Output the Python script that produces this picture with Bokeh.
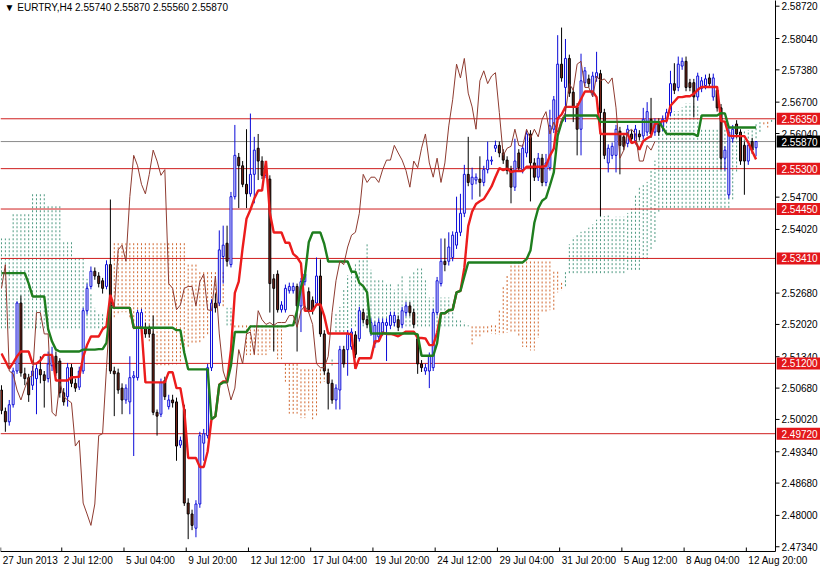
import numpy as np
from bokeh.plotting import figure
from bokeh.models import Range1d, Label, ColumnDataSource
from bokeh.core.properties import value
from bokeh.embed import file_html
from bokeh.resources import INLINE

header_text = "\u25bc EURTRY,H4  2.55740 2.55870 2.55560 2.55870"

opens = [2.5064,2.5019,2.4997,2.5033,2.5104,2.5247,2.5098,2.5090,2.5074,2.5088,
 2.5107,2.5096,2.5088,2.5115,2.5135,2.5125,2.5058,2.5050,2.5111,2.5078,
 2.5070,2.5104,2.5231,2.5282,2.5314,2.5304,2.5294,2.5282,2.5328,2.5104,
 2.5100,2.5068,2.5043,2.5039,2.5090,2.5090,2.5196,2.5196,2.5192,2.5182,
 2.5017,2.5013,2.5084,2.5029,2.5043,2.5039,2.4948,2.5023,2.4826,2.4803,
 2.4773,2.4824,2.4952,2.4968,2.5111,2.5247,2.5247,2.5345,2.5373,2.5328,
 2.5471,2.5554,2.5536,2.5497,2.5477,2.5518,2.5573,2.5546,2.5516,2.5508,
 2.5298,2.5308,2.5233,2.5233,2.5273,2.5273,2.5282,2.5241,2.5292,2.5271,
 2.5253,2.5247,2.5304,2.5182,2.5100,2.5078,2.5043,2.5064,2.5149,2.5149,
 2.5155,2.5180,2.5172,2.5227,2.5212,2.5186,2.5162,2.5176,2.5186,2.5200,
 2.5200,2.5206,2.5212,2.5202,2.5227,2.5241,2.5227,2.5172,2.5119,2.5104,
 2.5104,2.5111,2.5227,2.5288,2.5335,2.5335,2.5343,2.5369,2.5396,2.5436,
 2.5518,2.5497,2.5506,2.5508,2.5501,2.5528,2.5546,2.5573,2.5579,2.5563,
 2.5548,2.5528,2.5491,2.5563,2.5528,2.5563,2.5603,2.5542,2.5512,2.5552,
 2.5501,2.5532,2.5613,2.5634,2.5750,2.5701,2.5762,2.5691,2.5660,2.5613,
 2.5711,2.5719,2.5689,2.5721,2.5730,2.5648,2.5542,2.5558,2.5558,2.5609,
 2.5597,2.5583,2.5603,2.5589,2.5603,2.5599,2.5607,2.5634,2.5607,2.5628,
 2.5618,2.5634,2.5648,2.5709,2.5701,2.5746,2.5756,2.5711,2.5711,2.5681,
 2.5699,2.5705,2.5721,2.5681,2.5695,2.5658,2.5552,2.5475,2.5593,2.5624,
 2.5607,2.5579,2.5546,2.5587,2.5574]
highs = [2.5074,2.5027,2.5043,2.5111,2.5251,2.5263,2.5111,2.5098,2.5115,2.5121,
 2.5135,2.5104,2.5145,2.5155,2.5145,2.5131,2.5068,2.5121,2.5119,2.5088,
 2.5113,2.5237,2.5288,2.5324,2.5322,2.5312,2.5300,2.5337,2.5465,2.5113,
 2.5109,2.5078,2.5076,2.5135,2.5104,2.5233,2.5235,2.5206,2.5200,2.5221,
 2.5023,2.5088,2.5092,2.5054,2.5054,2.5048,2.4966,2.5033,2.4836,2.4812,
 2.4832,2.4976,2.4982,2.5119,2.5255,2.5267,2.5400,2.5410,2.5410,2.5481,
 2.5622,2.5563,2.5546,2.5613,2.5646,2.5597,2.5603,2.5556,2.5542,2.5516,
 2.5308,2.5316,2.5251,2.5286,2.5290,2.5290,2.5288,2.5300,2.5316,2.5280,
 2.5261,2.5343,2.5339,2.5190,2.5109,2.5086,2.5076,2.5157,2.5157,2.5190,
 2.5194,2.5188,2.5239,2.5235,2.5221,2.5215,2.5208,2.5215,2.5215,2.5215,
 2.5229,2.5229,2.5221,2.5239,2.5249,2.5249,2.5235,2.5180,2.5127,2.5119,
 2.5143,2.5235,2.5302,2.5383,2.5383,2.5396,2.5398,2.5471,2.5477,2.5538,
 2.5597,2.5532,2.5520,2.5556,2.5536,2.5587,2.5556,2.5589,2.5587,2.5571,
 2.5556,2.5536,2.5593,2.5571,2.5581,2.5611,2.5611,2.5552,2.5563,2.5561,
 2.5561,2.5654,2.5683,2.5811,2.5827,2.5803,2.5770,2.5701,2.5668,2.5772,
 2.5744,2.5728,2.5734,2.5776,2.5738,2.5656,2.5581,2.5585,2.5622,2.5618,
 2.5605,2.5622,2.5611,2.5622,2.5611,2.5658,2.5670,2.5679,2.5636,2.5636,
 2.5642,2.5656,2.5736,2.5752,2.5766,2.5764,2.5766,2.5719,2.5719,2.5732,
 2.5723,2.5728,2.5730,2.5730,2.5703,2.5666,2.5577,2.5616,2.5622,2.5632,
 2.5613,2.5587,2.5587,2.5595,2.5587]
lows = [2.5013,2.4976,2.4989,2.5027,2.5098,2.5092,2.5074,2.5039,2.5064,2.5013,
 2.5078,2.5027,2.5080,2.5104,2.5094,2.5048,2.5031,2.5029,2.5070,2.5060,
 2.5064,2.5098,2.5223,2.5276,2.5296,2.5280,2.5267,2.5276,2.5098,2.5009,
 2.5056,2.5013,2.5035,2.5013,2.4925,2.5084,2.5190,2.5174,2.5174,2.5011,
 2.4968,2.5007,2.5043,2.5023,2.5027,2.4915,2.4942,2.4820,2.4750,2.4769,
 2.4754,2.4816,2.4915,2.4962,2.5104,2.5227,2.5241,2.5288,2.5324,2.5322,
 2.5465,2.5447,2.5491,2.5447,2.5471,2.5457,2.5506,2.5508,2.5510,2.5227,
 2.5145,2.5227,2.5227,2.5227,2.5267,2.5267,2.5145,2.5186,2.5284,2.5227,
 2.5223,2.5241,2.5176,2.5096,2.5023,2.5035,2.5023,2.5023,2.5111,2.5094,
 2.5149,2.5131,2.5166,2.5204,2.5194,2.5178,2.5153,2.5168,2.5178,2.5125,
 2.5192,2.5198,2.5188,2.5194,2.5219,2.5219,2.5194,2.5098,2.5102,2.5096,
 2.5068,2.5104,2.5221,2.5282,2.5314,2.5326,2.5335,2.5361,2.5388,2.5428,
 2.5493,2.5465,2.5497,2.5471,2.5493,2.5520,2.5538,2.5565,2.5554,2.5540,
 2.5518,2.5457,2.5483,2.5524,2.5520,2.5554,2.5461,2.5504,2.5504,2.5493,
 2.5493,2.5526,2.5605,2.5626,2.5713,2.5628,2.5681,2.5628,2.5558,2.5558,
 2.5703,2.5701,2.5681,2.5713,2.5430,2.5550,2.5522,2.5550,2.5522,2.5518,
 2.5569,2.5575,2.5585,2.5581,2.5589,2.5591,2.5599,2.5595,2.5599,2.5599,
 2.5609,2.5626,2.5640,2.5687,2.5693,2.5738,2.5693,2.5693,2.5638,2.5673,
 2.5691,2.5697,2.5701,2.5673,2.5650,2.5528,2.5526,2.5467,2.5585,2.5595,
 2.5538,2.5475,2.5538,2.5561,2.5556]
closes = [2.5021,2.4997,2.5033,2.5104,2.5247,2.5100,2.5088,2.5054,2.5104,2.5109,
 2.5096,2.5084,2.5119,2.5135,2.5100,2.5058,2.5039,2.5111,2.5078,2.5068,
 2.5104,2.5231,2.5278,2.5314,2.5304,2.5288,2.5278,2.5328,2.5104,2.5098,
 2.5064,2.5043,2.5068,2.5090,2.5094,2.5227,2.5227,2.5182,2.5182,2.5017,
 2.5009,2.5080,2.5050,2.5043,2.5037,2.4946,2.4958,2.4826,2.4803,2.4779,
 2.4824,2.4968,2.4972,2.5111,2.5247,2.5237,2.5359,2.5369,2.5335,2.5471,
 2.5558,2.5536,2.5497,2.5477,2.5518,2.5569,2.5546,2.5516,2.5528,2.5288,
 2.5278,2.5233,2.5243,2.5278,2.5282,2.5282,2.5241,2.5292,2.5308,2.5233,
 2.5231,2.5304,2.5182,2.5104,2.5078,2.5043,2.5068,2.5149,2.5119,2.5182,
 2.5186,2.5139,2.5231,2.5212,2.5202,2.5206,2.5200,2.5206,2.5206,2.5206,
 2.5221,2.5221,2.5196,2.5231,2.5241,2.5227,2.5202,2.5119,2.5111,2.5111,
 2.5135,2.5227,2.5294,2.5335,2.5328,2.5365,2.5390,2.5396,2.5436,2.5518,
 2.5501,2.5512,2.5512,2.5501,2.5528,2.5548,2.5548,2.5579,2.5563,2.5548,
 2.5526,2.5491,2.5546,2.5532,2.5573,2.5603,2.5542,2.5512,2.5552,2.5501,
 2.5542,2.5620,2.5675,2.5750,2.5721,2.5762,2.5689,2.5660,2.5613,2.5715,
 2.5736,2.5709,2.5725,2.5732,2.5648,2.5558,2.5573,2.5577,2.5613,2.5579,
 2.5577,2.5613,2.5593,2.5613,2.5597,2.5634,2.5650,2.5603,2.5628,2.5607,
 2.5634,2.5648,2.5709,2.5695,2.5750,2.5756,2.5701,2.5701,2.5681,2.5725,
 2.5715,2.5719,2.5709,2.5721,2.5658,2.5552,2.5569,2.5607,2.5613,2.5603,
 2.5546,2.5546,2.5579,2.5569,2.5587]

# indicator values that depend on bars before the visible window
tenkan_head = [2.5141,2.5125,2.5109,2.5121,2.5135,2.5145,2.5145,2.5145]
kijun_head = [2.5310,2.5310,2.5310,2.5310,2.5310,2.5310,2.5310,2.5288,2.5261,2.5261,
 2.5261,2.5261,2.5192,2.5166,2.5149,2.5145,2.5145,2.5145,2.5145,2.5145,
 2.5145,2.5149,2.5149,2.5149,2.5149]
span_a_head = [2.5383,2.5383,2.5383,2.5436,2.5436,2.5436,2.5436,2.5436,2.5477,2.5477,
 2.5477,2.5477,2.5451,2.5451,2.5451,2.5451,2.5375,2.5375,2.5375,2.5343,
 2.5343,2.5343,2.5298,2.5267,2.5237,2.5227]
span_b_head = [2.5194]*29 + [2.5373]*19 + [2.5328]*3 + [2.5312]*7 + [2.5200]*15 + [2.5119]*4

level_lines = [2.5635, 2.5530, 2.5445, 2.5341, 2.5120, 2.4972]
level_texts = ["2.56350", "2.55300", "2.54450", "2.53410", "2.51200", "2.49720"]
bid_price = 2.5587
bid_text = "2.55870"
price_ticks = [2.5872, 2.5804, 2.5738, 2.5670, 2.5604, 2.5470, 2.5402, 2.5268,
               2.5202, 2.5134, 2.5068, 2.5002, 2.4934, 2.4868, 2.4800, 2.4734]
time_tick_bars = [0, 16, 32, 48, 64, 80, 96, 112, 128, 144, 160, 176, 192]
time_tick_labels = ["27 Jun 2013", "2 Jul 12:00", "5 Jul 04:00", "9 Jul 20:00",
                    "12 Jul 12:00", "17 Jul 04:00", "19 Jul 20:00", "24 Jul 12:00",
                    "29 Jul 04:00", "31 Jul 20:00", "5 Aug 12:00", "8 Aug 04:00",
                    "12 Aug 20:00"]

# ---- Ichimoku (9, 26, 52) ----
O = np.array(opens); H = np.array(highs); L = np.array(lows); C = np.array(closes)
n = len(C)
shift = 26
tenkan = list(tenkan_head) + [(H[i-8:i+1].max() + L[i-8:i+1].min()) / 2 for i in range(8, n)]
kijun = list(kijun_head) + [(H[i-25:i+1].max() + L[i-25:i+1].min()) / 2 for i in range(25, n)]
span_j = list(range(0, 200))
span_a = [span_a_head[j] if j < shift else (tenkan[j-shift] + kijun[j-shift]) / 2 for j in span_j]
span_b = [span_b_head[j] if j < 77 else (H[j-77:j-25].max() + L[j-77:j-25].min()) / 2 for j in span_j]
chikou_x = list(range(0, n - shift))
chikou_y = list(C[shift:])

# ---- layout (chart area + price scale + time scale drawn inside one frame) ----
FONT = "Liberation Sans"
WIDTH, HEIGHT = 820, 569
CHART_W, CHART_H = 775, 551
X_LEFT, X_RIGHT = -0.25, 199.0
P_LOW, P_HIGH = 2.4724, 2.5884
bar_px = CHART_W / (X_RIGHT - X_LEFT)
price_px = (P_HIGH - P_LOW) / CHART_H
X_END = X_RIGHT + (WIDTH - CHART_W) / bar_px
Y_START = P_LOW - (HEIGHT - CHART_H) * price_px

p = figure(width=WIDTH, height=HEIGHT, x_range=Range1d(X_LEFT, X_END), y_range=Range1d(Y_START, P_HIGH),
           output_backend="svg", toolbar_location=None, x_axis_location=None, y_axis_location=None,
           min_border_left=0, min_border_top=0, min_border_right=0, min_border_bottom=0)
p.outline_line_color = None
p.grid.visible = False
p.background_fill_color = "white"
p.border_fill_color = "white"

# cloud (dotted histogram)
up = [k for k in range(len(span_j)) if span_a[k] >= span_b[k]]
dn = [k for k in range(len(span_j)) if span_a[k] < span_b[k]]
p.segment(x0=[span_j[k] for k in up], y0=[span_b[k] for k in up], x1=[span_j[k] for k in up],
          y1=[span_a[k] for k in up], line_color="#4f9a82", line_width=1, line_dash="2 2")
p.segment(x0=[span_j[k] for k in dn], y0=[span_b[k] for k in dn], x1=[span_j[k] for k in dn],
          y1=[span_a[k] for k in dn], line_color="#d0672f", line_width=1, line_dash="2 2")

# horizontal levels
xs_line = [X_LEFT, X_RIGHT]
for lv in level_lines:
    p.line(xs_line, [lv, lv], line_color="#cf1e1e", line_width=1)
p.line(xs_line, [bid_price, bid_price], line_color="#8a8a8a", line_width=1)

# candles
idx = np.arange(n)
bull = C >= O
BULL = "#0a0ad8"
wick_col = [BULL if b else "black" for b in bull]
p.segment(x0=idx, y0=L, x1=idx, y1=H, line_color=wick_col, line_width=1)
src_up = ColumnDataSource(dict(x=idx[bull], top=C[bull], bottom=O[bull]))
src_dn = ColumnDataSource(dict(x=idx[~bull], top=O[~bull], bottom=C[~bull]))
p.vbar(x="x", top="top", bottom="bottom", width=0.5, source=src_up,
       fill_color="white", line_color=BULL, line_width=1)
p.vbar(x="x", top="top", bottom="bottom", width=0.5, source=src_dn,
       fill_color="#7c2619", line_color="black", line_width=1)

# indicator lines
p.line(list(idx), tenkan, line_color="#ec1c1c", line_width=2.4)
p.line(list(idx), kijun, line_color="#1e7e1e", line_width=2.4)
p.line(chikou_x, chikou_y, line_color="#8e3b30", line_width=1)

# price scale (right)
p.segment(x0=[X_RIGHT], y0=[P_LOW], x1=[X_RIGHT], y1=[P_HIGH + 1], line_color="black", line_width=1)
p.segment(x0=[X_RIGHT] * len(price_ticks), y0=price_ticks, x1=[X_RIGHT + 4 / bar_px] * len(price_ticks),
          y1=price_ticks, line_color="black", line_width=1)
label_x = X_RIGHT + 6 / bar_px
p.text(x=[label_x] * len(price_ticks), y=price_ticks, text=["%.5f" % t for t in price_ticks],
       text_font=value(FONT), text_font_size="10px", text_color="black",
       text_align="left", text_baseline="middle")
box_half = 6 * price_px
p.quad(left=[X_RIGHT + 1.2 / bar_px] * len(level_lines), right=[X_END + 1] * len(level_lines),
       top=[lv + box_half for lv in level_lines], bottom=[lv - box_half for lv in level_lines],
       fill_color="#e3171b", line_color=None)
p.text(x=[label_x] * len(level_lines), y=level_lines, text=level_texts,
       text_font=value(FONT), text_font_size="10px", text_color="white",
       text_align="left", text_baseline="middle")
p.quad(left=[X_RIGHT + 1.2 / bar_px], right=[X_END + 1], top=[bid_price + box_half],
       bottom=[bid_price - box_half], fill_color="black", line_color=None)
p.text(x=[label_x], y=[bid_price], text=[bid_text], text_font=value(FONT), text_font_size="10px",
       text_color="white", text_align="left", text_baseline="middle")

# time scale (bottom)
xt = [max(b - 0.5, X_LEFT + 0.05) for b in time_tick_bars]
p.segment(x0=[X_LEFT], y0=[P_LOW], x1=[X_RIGHT], y1=[P_LOW], line_color="black", line_width=1)
p.segment(x0=xt, y0=[P_LOW] * len(xt), x1=xt, y1=[P_LOW + 4 * price_px] * len(xt),
          line_color="black", line_width=1)
p.text(x=xt, y=[P_LOW] * len(xt), text=time_tick_labels, x_offset=2, y_offset=3,
       text_font=value(FONT), text_font_size="10px", text_color="black",
       text_align="left", text_baseline="top")

p.add_layout(Label(x=0.8, y=2.5870, text=header_text, text_align="left", text_baseline="middle",
                   text_font=FONT, text_font_size="10px", text_color="black"))

open("out.html", "w").write(file_html(p, INLINE))
